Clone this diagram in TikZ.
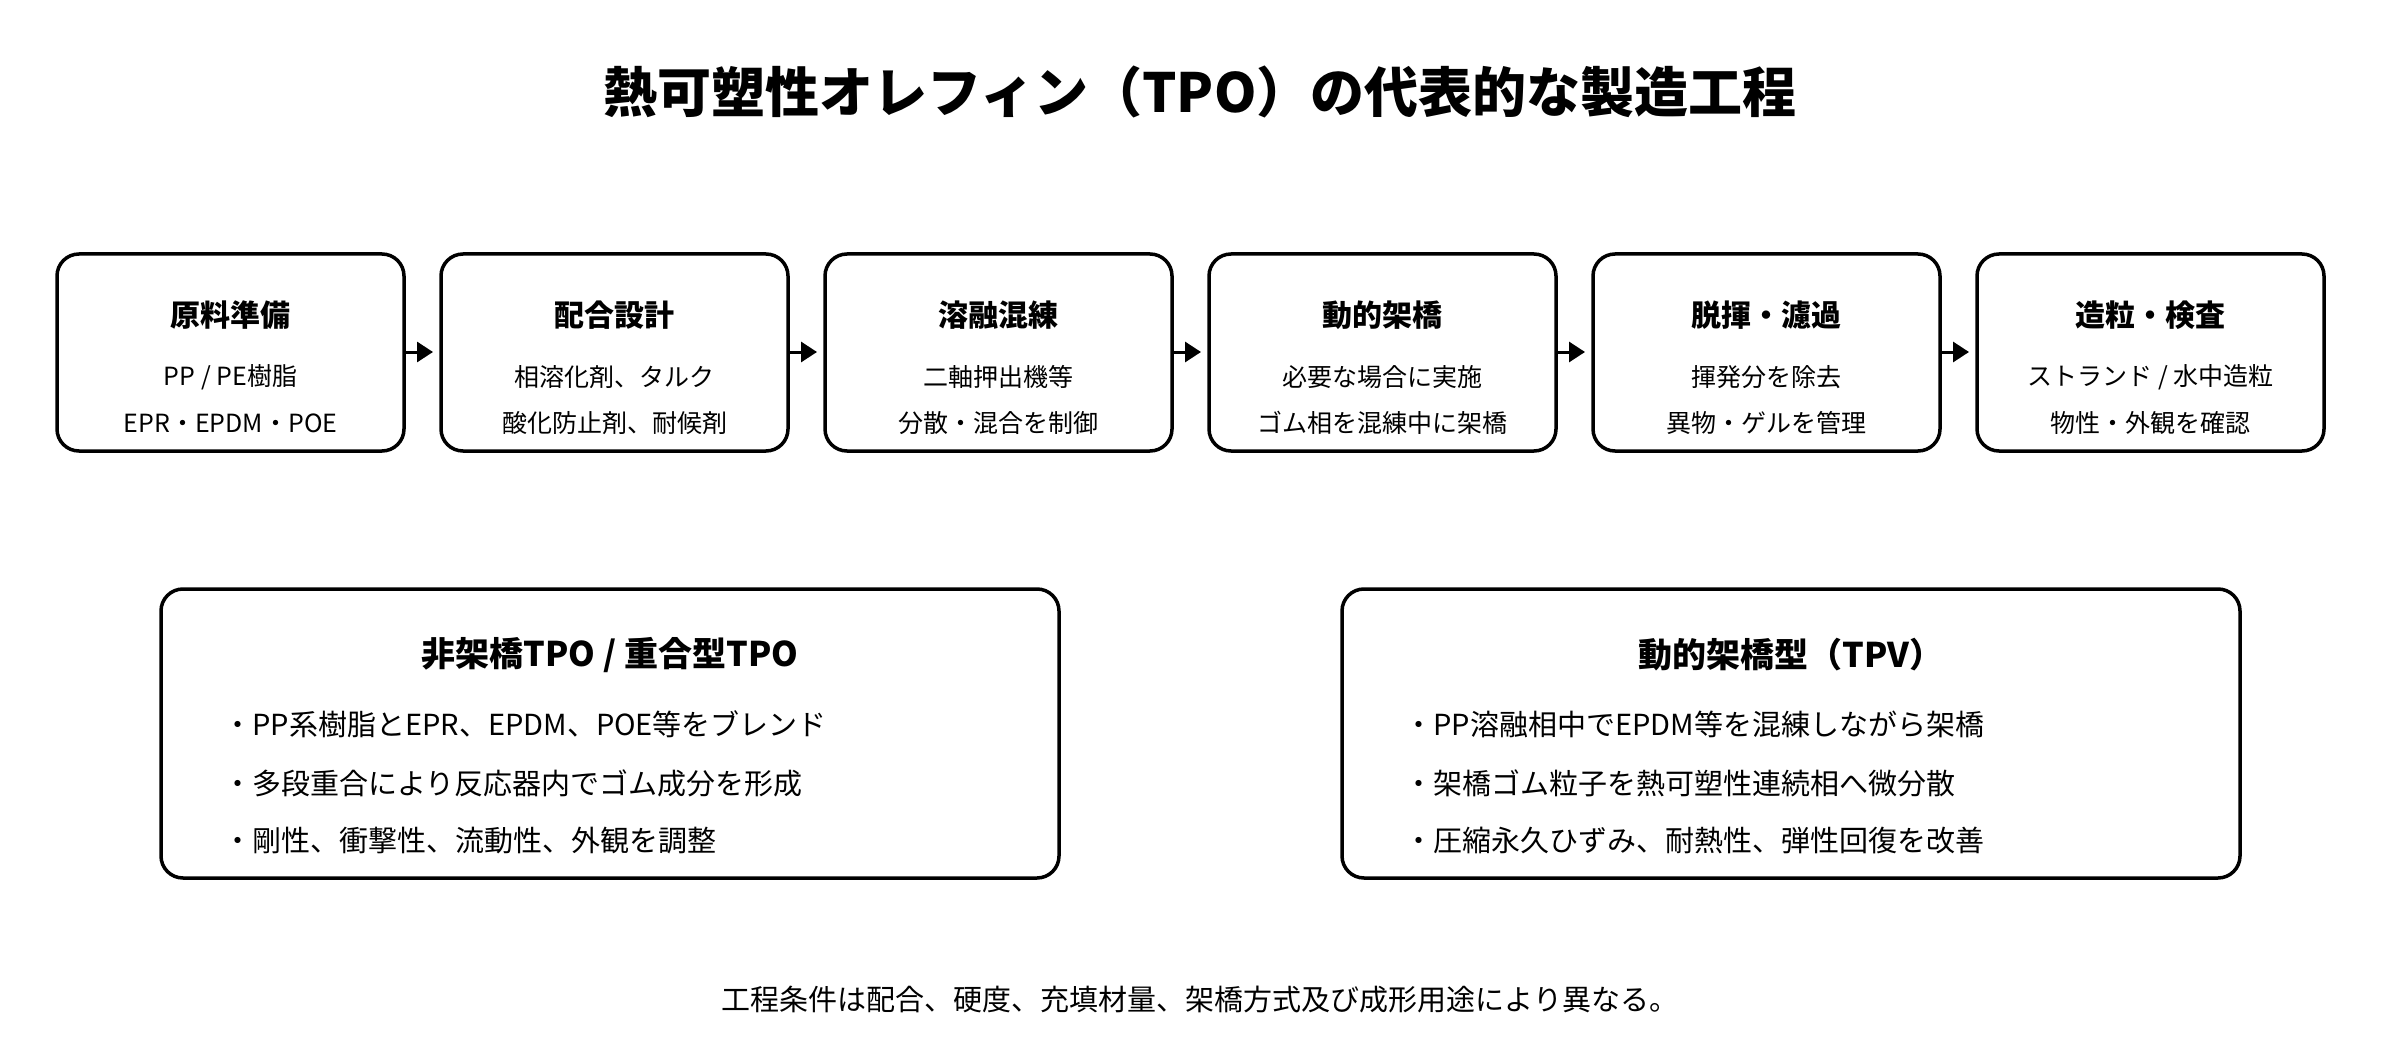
\documentclass[tikz,border=0pt]{standalone}
\usepackage{fontspec}
\setmainfont{Noto Sans CJK JP}
\usetikzlibrary{arrows.meta}
\begin{document}
\begin{tikzpicture}[x=1pt,y=-1pt,
 box/.style={draw=black,line width=3.5pt,rounded corners=22pt,fill=white},
 head/.style={font=\fontsize{30}{36}\selectfont\bfseries,anchor=center},
 body/.style={font=\fontsize{25}{30}\selectfont,anchor=center},
 bhead/.style={font=\fontsize{34}{40}\selectfont\bfseries,anchor=center},
 bul/.style={font=\fontsize{29}{34}\selectfont,anchor=west},
 arr/.style={-{Triangle[length=16pt,width=20pt]},line width=3pt,shorten >=8pt}]
\useasboundingbox (0,0) rectangle (2400,1040);
\node[font=\fontsize{54}{60}\selectfont\bfseries] (title) at (1200,92) {熱可塑性オレフィン（TPO）の代表的な製造工程};
\foreach \i/\h/\a/\b in {0/原料準備/{PP / PE樹脂}/EPR・EPDM・POE,
 1/配合設計/相溶化剤、タルク/酸化防止剤、耐候剤,
 2/溶融混練/二軸押出機等/分散・混合を制御,
 3/動的架橋/必要な場合に実施/ゴム相を混練中に架橋,
 4/脱揮・濾過/揮発分を除去/異物・ゲルを管理,
 5/造粒・検査/{ストランド / 水中造粒}/物性・外観を確認}{
 \pgfmathsetmacro\xl{57+384*\i}
 \draw[box] (\xl,254) rectangle ++(347,197);
 \coordinate (L\i) at (\xl,352);
 \coordinate (R\i) at (\xl+347,352);
 \node[head] (h\i) at (\xl+173.5,315) {\h};
 \node[body] (a\i) at (\xl+173.5,377) {\a};
 \node[body] (b\i) at (\xl+173.5,423) {\b};
}
\foreach \i/\j in {0/1,1/2,2/3,3/4,4/5}{\draw[arr] (R\i) -- (L\j);}
\draw[box] (161,589) rectangle (1059,878);
\node[bhead] (lh) at (610,655) {非架橋TPO / 重合型TPO};
\node[bul] (l1) at (220,724) {・PP系樹脂とEPR、EPDM、POE等をブレンド};
\node[bul] (l2) at (220,783) {・多段重合により反応器内でゴム成分を形成};
\node[bul] (l3) at (220,841) {・剛性、衝撃性、流動性、外観を調整};
\draw[box] (1342,589) rectangle (2240,878);
\node[bhead] (rh) at (1791,655) {動的架橋型（TPV）};
\node[bul] (r1) at (1401,724) {・PP溶融相中でEPDM等を混練しながら架橋};
\node[bul] (r2) at (1401,783) {・架橋ゴム粒子を熱可塑性連続相へ微分散};
\node[bul] (r3) at (1401,841) {・圧縮永久ひずみ、耐熱性、弾性回復を改善};
\node[font=\fontsize{29}{34}\selectfont] (foot) at (1200,1000) {工程条件は配合、硬度、充填材量、架橋方式及び成形用途により異なる。};
\end{tikzpicture}
\end{document}
